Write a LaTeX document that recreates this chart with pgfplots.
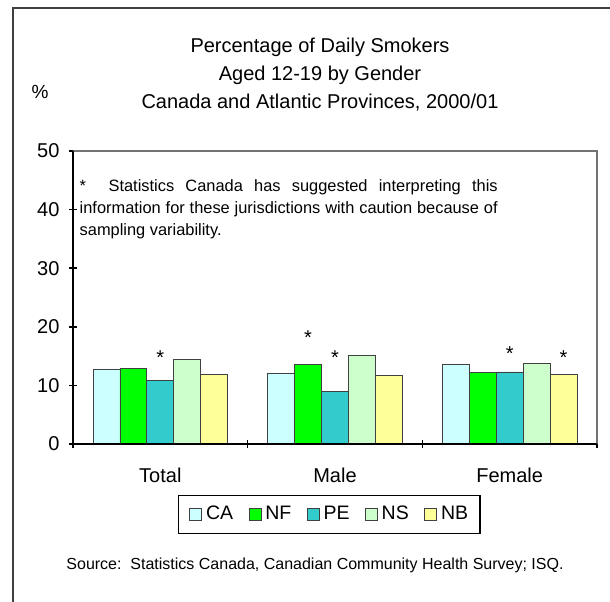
\documentclass[border=0pt]{standalone}
\usepackage{pgfplots}
\pgfplotsset{compat=1.18}
\usepackage{fontspec}
\setmainfont{Liberation Sans}
\definecolor{cCA}{HTML}{CCFFFF}
\definecolor{cNF}{HTML}{00FF00}
\definecolor{cPE}{HTML}{33CCCC}
\definecolor{cNS}{HTML}{CCFFCC}
\definecolor{cNB}{HTML}{FFFF99}
\definecolor{frame}{HTML}{404040}
\pgfplotsset{
  mybar/.style={fill=#1, draw=black!75, line width=0.8pt,
    legend image code/.code={\draw[fill=#1, draw=black!75, line width=0.7pt] (0bp,-6bp) rectangle (12bp,6bp);}},
}
\begin{document}
\begin{tikzpicture}[x=1bp,y=1bp]
\useasboundingbox (0,0) rectangle (610,602);
% outer frame (cropped on right and bottom)
\draw[frame, line width=1.3bp] (13,-5) -- (13,594) -- (620,594);
% titles
\node[font=\fontsize{20bp}{24bp}\selectfont] at (320,555) {Percentage of Daily Smokers};
\node[font=\fontsize{20bp}{24bp}\selectfont] at (320,527) {Aged 12-19 by Gender};
\node[font=\fontsize{20bp}{24bp}\selectfont] at (320,499) {Canada and Atlantic Provinces, 2000/01};
\node[font=\fontsize{19bp}{22bp}\selectfont] at (40,510) {\%};
% note
\node[font=\fontsize{16.4bp}{22bp}\selectfont, align=left, inner sep=0pt, anchor=north west] at (79.5,422.5)
  {\makebox[418bp][s]{*\ \ Statistics Canada has suggested interpreting this}\\
   \makebox[418bp][s]{information for these jurisdictions with caution because of}\\
   sampling variability.};
% source
\node[font=\fontsize{16bp}{19bp}\selectfont] at (315,37) {Source:\ \ Statistics Canada, Canadian Community Health Survey; ISQ.};
\begin{axis}[
  at={(73bp,158bp)}, anchor=south west,
  scale only axis, width=524bp, height=293bp,
  ybar=0pt, bar width=0.154,
  xmin=-0.5, xmax=2.5, ymin=0, ymax=50,
  xtick={0,1,2}, xticklabels={Total,Male,Female},
  minor xtick={-0.5,0.5,1.5,2.5},
  major x tick style={draw=none},
  minor x tick style={black, line width=1.5bp},
  xtick pos=bottom, x tick label style={yshift=-16bp},
  minor tick length=8bp,
  ytick={0,10,20,30,40,50}, ytick pos=left,
  y tick style={black, line width=1.5bp}, major tick length=8bp,
  y tick label style={xshift=-6bp},
  tick align=center,
  tick label style={font=\fontsize{20bp}{24bp}\selectfont},
  /pgf/number format/assume math mode=true,
  axis line style={draw=none},
  legend columns=5,
  legend style={at={(0.489,-0.2406)}, anchor=center, draw=black, line width=1.5bp,
    font=\fontsize{19.5bp}{23bp}\selectfont, inner xsep=11bp, inner ysep=8bp,
    nodes={inner xsep=1bp, inner ysep=2bp, text height=14bp, text depth=4bp},
    /tikz/every odd column/.append style={column sep=3bp},
    /tikz/every even column/.append style={column sep=14.5bp}},
  legend cell align=left,
  clip=false,
]
\addplot[mybar=cCA] coordinates {(0,12.8) (1,12.1) (2,13.5)};
\addplot[mybar=cNF] coordinates {(0,12.9) (1,13.6) (2,12.2)};
\addplot[mybar=cPE] coordinates {(0,10.8) (1,9.0) (2,12.3)};
\addplot[mybar=cNS] coordinates {(0,14.4) (1,15.2) (2,13.7)};
\addplot[mybar=cNB] coordinates {(0,11.8) (1,11.7) (2,11.9)};
\legend{CA,NF,PE,NS,NB}
% axis frame
\draw[black!55, line width=1.5bp] (rel axis cs:0,1) -- (rel axis cs:1,1) -- (rel axis cs:1,0);
\draw[black, line width=2bp] (rel axis cs:0,1) -- (rel axis cs:0,0) -- (rel axis cs:1,0);
% asterisks
\node[anchor=base, inner sep=0pt, font=\fontsize{20bp}{20bp}\selectfont] at (axis cs:0,13.5) {*};
\node[anchor=base, inner sep=0pt, font=\fontsize{20bp}{20bp}\selectfont] at (axis cs:0.846,16.9) {*};
\node[anchor=base, inner sep=0pt, font=\fontsize{20bp}{20bp}\selectfont] at (axis cs:1,13.5) {*};
\node[anchor=base, inner sep=0pt, font=\fontsize{20bp}{20bp}\selectfont] at (axis cs:2,14.2) {*};
\node[anchor=base, inner sep=0pt, font=\fontsize{20bp}{20bp}\selectfont] at (axis cs:2.308,13.5) {*};
\end{axis}
\end{tikzpicture}
\end{document}
